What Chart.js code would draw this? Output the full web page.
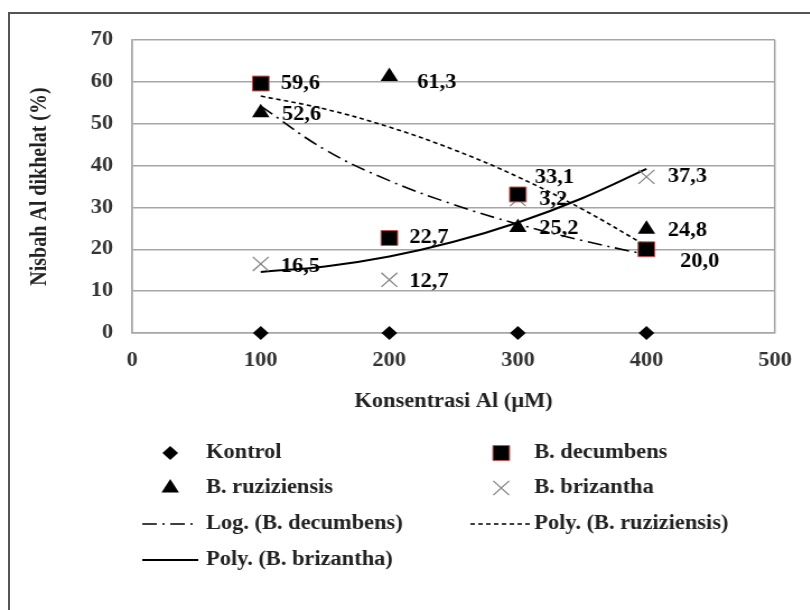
<!DOCTYPE html>
<html>
<head>
<meta charset="utf-8">
<script src="https://cdn.jsdelivr.net/npm/chart.js@4/dist/chart.umd.min.js"></script>
<style>
  html, body { margin: 0; padding: 0; background: #fff; }
  #wrap { position: relative; width: 810px; height: 610px; overflow: hidden; }
  #frame { position: absolute; left: 8px; top: 12px; width: 840px; height: 640px; border: 2px solid #555; box-sizing: border-box; }
  /* the source picture is a bit stretched sideways, so the canvas is too */
  #stretch { position: absolute; left: 0; top: 0; transform: scaleX(1.12); transform-origin: 0 0; }
</style>
</head>
<body>
<div id="wrap">
  <div id="frame"></div>
  <div id="stretch"><canvas id="chart" width="723" height="610"></canvas></div>
</div>
<script>
var concentrations = [100, 200, 300, 400];
var kontrol = [0, 0, 0, 0];
var decumbens = [59.6, 22.7, 33.1, 20.0];
var ruziziensis = [52.6, 61.3, 25.2, 24.8];
var brizantha = [16.5, 12.7, 32.0, 37.3];

// point labels as printed (the 300 label of B. brizantha is half hidden)
var decumbensLabels = ['59,6', '22,7', '33,1', '20,0'];
var ruziziensisLabels = ['52,6', '61,3', '25,2', '24,8'];
var brizanthaLabels = ['16,5', '12,7', '3,2', '37,3'];

// trendlines
var trendX = [100, 150, 200, 250, 300, 350, 400];
var logDecumbens = [54.2, 43.8, 36.4, 30.7, 26.0, 22.1, 18.7];
var polyRuziziensis = [56.6, 53.5, 49.2, 43.8, 37.3, 29.6, 20.8];
var polyBrizantha = [14.6, 15.9, 18.3, 21.8, 26.4, 32.2, 39.2];

var xMin = 0, xMax = 500, xStep = 100;
var yMin = 0, yMax = 70, yStep = 10;

var serif = '"Liberation Serif", "Times New Roman", serif';
var gridColor = '#a6a6a6';

function pts(xs, ys) {
  return xs.map(function (x, i) { return { x: x, y: ys[i] }; });
}

// label offsets (canvas px) per dataset index, default is right of the marker
var labelShift = {
  1: [[18, 0], [18, 0], [15, -17], [30, 13]],
  2: [[19, 2], [25, 6], [19, 1], [19, 2]],
  3: [[18, 3], [18, 2], [19, 1], [19, 0]]
};
var pointLabels = { 1: decumbensLabels, 2: ruziziensisLabels, 3: brizanthaLabels };

var dataLabels = {
  id: 'dataLabels',
  afterDatasetsDraw: function (chart) {
    var ctx = chart.ctx;
    ctx.save();
    ctx.font = 'bold 20px ' + serif;
    ctx.fillStyle = '#000';
    ctx.textAlign = 'left';
    ctx.textBaseline = 'middle';
    Object.keys(pointLabels).forEach(function (k) {
      var meta = chart.getDatasetMeta(+k);
      meta.data.forEach(function (el, j) {
        var s = labelShift[k][j];
        ctx.fillText(pointLabels[k][j], el.x + s[0], el.y + s[1]);
      });
    });
    ctx.restore();
  }
};

// two column legend like the Excel one
var gridLegend = {
  id: 'gridLegend',
  afterDraw: function (chart) {
    var ctx = chart.ctx;
    var cols = [{ left: 127, right: 177, text: 184 }, { left: 420, right: 475, text: 477 }];
    var rows = [453, 488, 524, 560];
    ctx.save();
    chart.data.datasets.forEach(function (ds, i) {
      var c = cols[i % 2], y = rows[Math.floor(i / 2)];
      if (ds.showLine) {
        ctx.strokeStyle = ds.borderColor;
        ctx.lineWidth = ds.borderWidth;
        ctx.setLineDash(ds.borderDash || []);
        ctx.beginPath();
        ctx.moveTo(c.left, y);
        ctx.lineTo(c.right, y);
        ctx.stroke();
        ctx.setLineDash([]);
      } else {
        ctx.fillStyle = ds.backgroundColor;
        ctx.strokeStyle = ds.borderColor;
        ctx.lineWidth = ds.borderWidth;
        Chart.helpers.drawPoint(ctx, {
          pointStyle: ds.pointStyle, rotation: 0,
          radius: ds.pointRadius, borderWidth: ds.borderWidth
        }, (c.left + c.right) / 2, y);
      }
      ctx.font = 'bold 20px ' + serif;
      ctx.fillStyle = '#222';
      ctx.textAlign = 'left';
      ctx.textBaseline = 'middle';
      ctx.fillText(ds.label, c.text, y);
    });
    ctx.restore();
  }
};

new Chart(document.getElementById('chart'), {
  type: 'scatter',
  data: {
    datasets: [{
      label: 'Kontrol',
      data: pts(concentrations, kontrol),
      pointStyle: 'rectRot', pointRadius: 7, pointHoverRadius: 7,
      backgroundColor: '#000', borderColor: '#000', borderWidth: 0, clip: false
    }, {
      label: 'B. decumbens',
      data: pts(concentrations, decumbens),
      pointStyle: 'rect', pointRadius: 10.5, pointHoverRadius: 10.5,
      backgroundColor: '#000', borderColor: '#c0504d', borderWidth: 1, clip: false
    }, {
      label: 'B. ruziziensis',
      data: pts(concentrations, ruziziensis),
      pointStyle: 'triangle', pointRadius: 9, pointHoverRadius: 9,
      backgroundColor: '#000', borderColor: '#000', borderWidth: 0, clip: false
    }, {
      label: 'B. brizantha',
      data: pts(concentrations, brizantha),
      pointStyle: 'crossRot', pointRadius: 10, pointHoverRadius: 10,
      backgroundColor: '#808080', borderColor: '#808080', borderWidth: 1.2, clip: false
    }, {
      label: 'Log. (B. decumbens)',
      data: pts(trendX, logDecumbens),
      showLine: true, pointRadius: 0, tension: 0.4,
      borderColor: '#000', borderWidth: 1.6, borderDash: [13, 5, 2, 5]
    }, {
      label: 'Poly. (B. ruziziensis)',
      data: pts(trendX, polyRuziziensis),
      showLine: true, pointRadius: 0, tension: 0.4,
      borderColor: '#000', borderWidth: 1.6, borderDash: [4, 3]
    }, {
      label: 'Poly. (B. brizantha)',
      data: pts(trendX, polyBrizantha),
      showLine: true, pointRadius: 0, tension: 0.4,
      borderColor: '#000', borderWidth: 2
    }]
  },
  options: {
    responsive: false,
    animation: false,
    layout: { padding: { left: 20, top: 40, right: 21, bottom: 192 } },
    plugins: { legend: { display: false }, tooltip: { enabled: false } },
    scales: {
      x: {
        type: 'linear', min: xMin, max: xMax,
        ticks: { stepSize: xStep, padding: 16, color: '#333', font: { family: serif, size: 20, weight: 'bold' } },
        grid: {
          drawTicks: false, lineWidth: 1.5,
          color: function (c) { return c.tick && (c.tick.value === xMin || c.tick.value === xMax) ? gridColor : 'rgba(0,0,0,0)'; }
        },
        border: { color: gridColor, width: 1.5 },
        title: { display: true, text: 'Konsentrasi Al (\u00b5M)', color: '#222', padding: { top: 4, bottom: 4 }, font: { family: serif, size: 20, weight: 'bold' } },
        afterFit: function (s) { s.height = 85; }
      },
      y: {
        min: yMin, max: yMax,
        ticks: { stepSize: yStep, padding: 17, color: '#333', font: { family: serif, size: 20, weight: 'bold' } },
        grid: { drawTicks: false, color: gridColor, lineWidth: 1.5 },
        border: { color: gridColor, width: 1.5 },
        title: { display: true, text: 'Nisbah Al dikhelat (%)', color: '#222', padding: { top: 4, bottom: 4 }, font: { family: serif, size: 20, weight: 'bold' } },
        afterFit: function (s) { s.width = 98; }
      }
    }
  },
  plugins: [dataLabels, gridLegend]
});
</script>
</body>
</html>
